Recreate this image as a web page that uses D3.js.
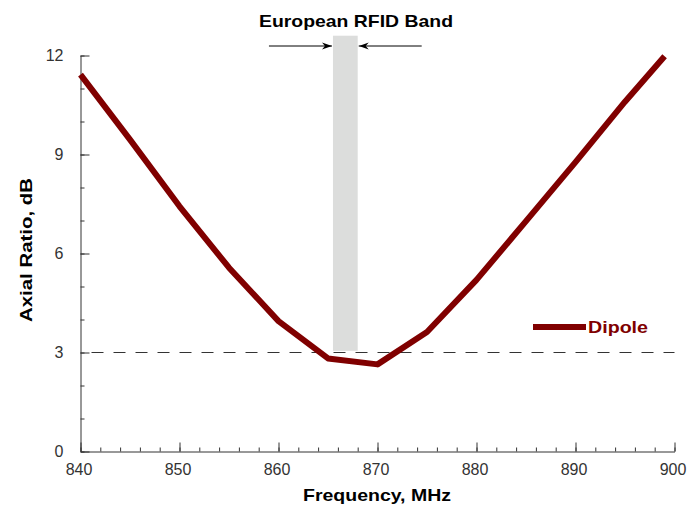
<!DOCTYPE html>
<html>
<head>
<meta charset="utf-8">
<script src="https://cdn.jsdelivr.net/npm/d3@7"></script>
<style>
  html, body { margin: 0; padding: 0; background: #fff; }
  svg { display: block; }
  .tick text { font-family: "Liberation Sans", Arial, sans-serif; font-size: 16px; fill: #333; }
  .bold { font-family: "Liberation Sans", Arial, sans-serif; font-weight: bold; font-size: 17px; }
</style>
</head>
<body>
<svg id="chart" width="687" height="513"></svg>
<script>
// Axial ratio of the dipole tag antenna across the UHF band
const freqMHz = [840, 845, 850, 855, 860, 865, 870, 875, 880, 885, 890, 895, 899];
const axialRatioDb = [11.42, 9.45, 7.43, 5.57, 3.95, 2.82, 2.64, 3.62, 5.2, 6.98, 8.77, 10.6, 11.98];

// European RFID allocation, drawn as a shaded band
const bandFreq = [865.5, 868];
const bandLevel = [3.05, 12.6];
const bandLabel = "European RFID Band";

// 3 dB reference level
const refLevel = 3;

const xTicks = [840, 850, 860, 870, 880, 890, 900];
const xMinorTicks = d3.range(840, 901, 2);
const yTicks = [0, 3, 6, 9, 12];
const yMinorTicks = d3.range(0, 13, 1);

const seriesName = "Dipole";
const xTitle = "Frequency, MHz";
const yTitle = "Axial Ratio, dB";

const svg = d3.select("#chart");
const x = d3.scaleLinear().domain([840, 900]).range([80.5, 674.5]);
const y = d3.scaleLinear().domain([0, 12]).range([451.5, 55.5]);

const lineColor = "#800000";
const axisColor = "#333";

// set a bold label to a given drawn width
function fitWidth(sel, w) {
  sel.attr("textLength", w).attr("lengthAdjust", "spacingAndGlyphs");
}

// shaded band
svg.append("rect")
  .attr("x", x(bandFreq[0]))
  .attr("width", x(bandFreq[1]) - x(bandFreq[0]))
  .attr("y", y(bandLevel[1]))
  .attr("height", y(bandLevel[0]) - y(bandLevel[1]))
  .attr("fill", "#dcdddc");

// 3 dB dashed reference
svg.append("line")
  .attr("x1", x(840) + 1).attr("x2", x(900))
  .attr("y1", y(refLevel)).attr("y2", y(refLevel))
  .attr("stroke", "#333").attr("stroke-width", 1)
  .attr("stroke-dasharray", "12,10").attr("stroke-dashoffset", -10);

// axes: minor ticks
svg.append("g")
  .attr("transform", `translate(0,${y(0)})`)
  .call(d3.axisBottom(x).tickValues(xMinorTicks).tickSize(-4).tickSizeOuter(0).tickFormat(""))
  .call(g => g.select(".domain").remove())
  .call(g => g.selectAll("line").attr("stroke", axisColor));
svg.append("g")
  .attr("transform", `translate(${x(840)},0)`)
  .call(d3.axisLeft(y).tickValues(yMinorTicks).tickSize(-4).tickSizeOuter(0).tickFormat(""))
  .call(g => g.select(".domain").remove())
  .call(g => g.selectAll("line").attr("stroke", axisColor));

// axes: major ticks and labels
svg.append("g")
  .attr("transform", `translate(0,${y(0)})`)
  .call(d3.axisBottom(x).tickValues(xTicks).tickSize(-9).tickSizeOuter(0).tickPadding(12).tickFormat(d3.format("d")))
  .call(g => g.select(".domain").attr("stroke", axisColor))
  .call(g => g.selectAll("line").attr("stroke", axisColor))
  .call(g => g.selectAll("text").attr("dx", -2));
svg.append("g")
  .attr("transform", `translate(${x(840)},0)`)
  .call(d3.axisLeft(y).tickValues(yTicks).tickSize(-9).tickSizeOuter(0).tickPadding(17).tickFormat(d3.format("d")))
  .call(g => g.select(".domain").attr("stroke", axisColor))
  .call(g => g.selectAll("line").attr("stroke", axisColor));

// data line
const line = d3.line().x((d, i) => x(freqMHz[i])).y(d => y(d));
svg.append("path")
  .datum(axialRatioDb)
  .attr("d", line)
  .attr("fill", "none")
  .attr("stroke", lineColor)
  .attr("stroke-width", 6)
  .attr("stroke-linejoin", "round");

// band title and arrows
svg.append("text").attr("class", "bold")
  .attr("x", 356).attr("y", 27)
  .attr("text-anchor", "middle")
  .text(bandLabel)
  .call(fitWidth, 194);

const defs = svg.append("defs");
defs.append("marker")
  .attr("id", "head")
  .attr("viewBox", "0 0 10 10")
  .attr("refX", 10).attr("refY", 5)
  .attr("markerWidth", 10).attr("markerHeight", 10)
  .attr("markerUnits", "userSpaceOnUse")
  .attr("orient", "auto")
  .append("path")
  .attr("d", "M0,1.5 L10,5 L0,8.5 L3,5 Z")
  .attr("fill", "#000");

const arrowY = 46;
svg.append("line")
  .attr("x1", x(bandFreq[0]) - 64).attr("x2", x(bandFreq[0]) - 1)
  .attr("y1", arrowY).attr("y2", arrowY)
  .attr("stroke", "#000").attr("stroke-width", 1)
  .attr("marker-end", "url(#head)");
svg.append("line")
  .attr("x1", x(bandFreq[1]) + 64).attr("x2", x(bandFreq[1]) + 1)
  .attr("y1", arrowY).attr("y2", arrowY)
  .attr("stroke", "#000").attr("stroke-width", 1)
  .attr("marker-end", "url(#head)");

// legend
svg.append("line")
  .attr("x1", 533).attr("x2", 586)
  .attr("y1", 327).attr("y2", 327)
  .attr("stroke", lineColor).attr("stroke-width", 6);
svg.append("text").attr("class", "bold")
  .attr("x", 588).attr("y", 333)
  .attr("fill", lineColor)
  .text(seriesName)
  .call(fitWidth, 60);

// axis titles
svg.append("text").attr("class", "bold")
  .attr("x", 377).attr("y", 501)
  .attr("text-anchor", "middle")
  .text(xTitle)
  .call(fitWidth, 148);
svg.append("text").attr("class", "bold")
  .attr("transform", "translate(32,250) rotate(-90)")
  .attr("text-anchor", "middle")
  .text(yTitle)
  .call(fitWidth, 144);
</script>
</body>
</html>
